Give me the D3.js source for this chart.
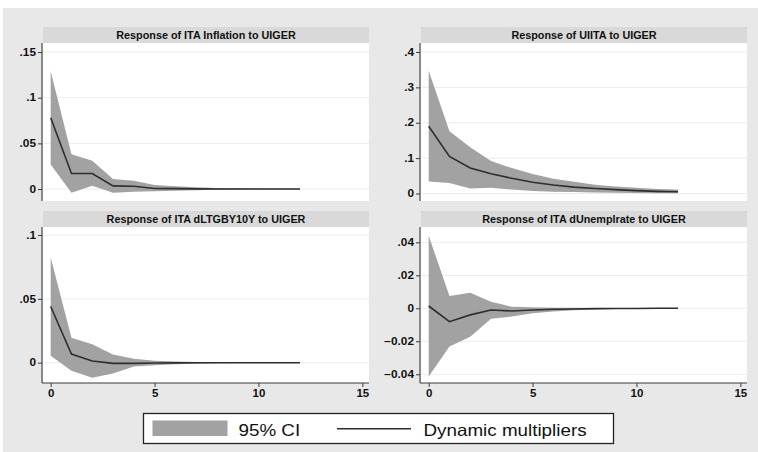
<!DOCTYPE html>
<html><head><meta charset="utf-8">
<script src="https://cdn.jsdelivr.net/npm/d3@7"></script>
<style>body{margin:0;background:#fff}svg{display:block}</style>
</head><body>
<svg id="chart" width="758" height="452"></svg>
<script>
// ---- data ----
const steps = [0,1,2,3,4,5,6,7,8,9,10,11,12];
const titles = [
  "Response of ITA Inflation to UIGER",
  "Response of UIITA to UIGER",
  "Response of ITA dLTGBY10Y to UIGER",
  "Response of ITA dUnemplrate to UIGER"
];
const irfInflation = [0.078,0.017,0.017,0.0035,0.003,0.0006,0.0004,0.0002,0.0001,0.0001,0.00005,0.00003,0.00002];
const loInflation  = [0.027,-0.004,0.0035,-0.004,-0.003,-0.0025,-0.0018,-0.0012,-0.0008,-0.0005,-0.0003,-0.0002,-0.0001];
const hiInflation  = [0.129,0.038,0.031,0.011,0.009,0.0045,0.003,0.002,0.0012,0.0008,0.0005,0.0003,0.0002];

const irfUIITA = [0.19,0.105,0.072,0.056,0.043,0.032,0.024,0.018,0.014,0.011,0.008,0.006,0.005];
const loUIITA  = [0.034,0.030,0.014,0.016,0.011,0.007,0.005,0.004,0.003,0.002,0.0015,0.001,0.001];
const hiUIITA  = [0.347,0.176,0.131,0.092,0.072,0.055,0.042,0.033,0.025,0.020,0.016,0.013,0.011];

const irfLTGBY = [0.044,0.0068,0.0013,-0.0005,-0.0005,-0.0002,-0.0001,0,0,0,0,0,0];
const loLTGBY  = [0.0055,-0.0063,-0.0117,-0.0084,-0.003,-0.002,-0.0012,-0.0008,-0.0005,-0.0003,-0.0002,-0.0001,-0.0001];
const hiLTGBY  = [0.0825,0.0196,0.0144,0.0065,0.0031,0.0016,0.001,0.0006,0.0004,0.0003,0.0002,0.0001,0.0001];

const irfUnemp = [0.0014,-0.0081,-0.004,-0.001,-0.0016,-0.001,-0.0006,-0.0004,-0.0002,-0.0001,-0.0001,0,0];
const loUnemp  = [-0.0414,-0.0232,-0.0172,-0.0063,-0.005,-0.003,-0.002,-0.0012,-0.0008,-0.0005,-0.0003,-0.0002,-0.0001];
const hiUnemp  = [0.044,0.0075,0.0095,0.004,0.001,0.0006,0.0004,0.0003,0.0002,0.0001,0.0001,0.0001,0.0001];

const yTicks1 = [0,0.05,0.1,0.15];
const yTicks2 = [0,0.1,0.2,0.3,0.4];
const yTicks3 = [0,0.05,0.1];
const yTicks4 = [-0.04,-0.02,0,0.02,0.04];
const xTicks = [0,5,10,15];
const legendLabels = ["95% CI","Dynamic multipliers"];

// ---- layout ----
const svg = d3.select("#chart");
const BG = "#e8e8e8", STRIP = "#d9d9d9", BAND = "#a2a2a2", LINE = "#2e2e2e", AX = "#3a3a3a", GRID = "#ececec";
const FONT = "'Liberation Sans', Arial, sans-serif";

svg.append("rect").attr("x",3).attr("y",8).attr("width",755).attr("height",444).attr("fill",BG);

const panels = [
  {title:titles[0], irf:irfInflation, lo:loInflation, hi:hiInflation, ticks:yTicks1, x0:43, x1:369, top:43, bot:201, ydom:[-0.0131,0.1599], xaxis:false},
  {title:titles[1], irf:irfUIITA, lo:loUIITA, hi:hiUIITA, ticks:yTicks2, x0:421, x1:747, top:43, bot:201, ydom:[-0.0212,0.4254], xaxis:false},
  {title:titles[2], irf:irfLTGBY, lo:loLTGBY, hi:hiLTGBY, ticks:yTicks3, x0:43, x1:369, top:227, bot:383, ydom:[-0.0159,0.1063], xaxis:true},
  {title:titles[3], irf:irfUnemp, lo:loUnemp, hi:hiUnemp, ticks:yTicks4, x0:421, x1:747, top:227, bot:383, ydom:[-0.0453,0.0493], xaxis:true}
];

const fmt = v => { if (v===0) return "0"; let s = d3.format("")(+v.toFixed(4)); return s.replace(/^(-?)0\./,"$1."); };

function stretch(sel, k){
  sel.each(function(){ const w=this.getComputedTextLength(); d3.select(this).attr("textLength", w*k).attr("lengthAdjust","spacingAndGlyphs"); });
}

panels.forEach(p => {
  const g = svg.append("g");
  const x = d3.scaleLinear().domain([-0.37,15.32]).range([p.x0,p.x1]);
  const y = d3.scaleLinear().domain(p.ydom).range([p.bot,p.top]);
  // strip
  g.append("rect").attr("x",p.x0).attr("y",p.top-16).attr("width",p.x1-p.x0).attr("height",16).attr("fill",STRIP);
  g.append("text").attr("x",(p.x0+p.x1)/2).attr("y",p.top-4.5).attr("text-anchor","middle")
    .attr("font-family",FONT).attr("font-weight","bold").attr("font-size","10px").attr("fill","#111")
    .text(p.title).call(stretch,1.08);
  // plot area
  g.append("rect").attr("x",p.x0).attr("y",p.top).attr("width",p.x1-p.x0).attr("height",p.bot-p.top).attr("fill","#fff");
  // grid
  g.selectAll("line.grid").data(p.ticks).enter().append("line")
    .attr("x1",p.x0).attr("x2",p.x1).attr("y1",d=>y(d)).attr("y2",d=>y(d))
    .attr("stroke",GRID).attr("stroke-width",1);
  // band
  const rows = steps.map((s,i)=>({s, irf:p.irf[i], lo:p.lo[i], hi:p.hi[i]}));
  g.append("path").datum(rows).attr("fill",BAND)
    .attr("d", d3.area().x(d=>x(d.s)).y0(d=>y(d.lo)).y1(d=>y(d.hi)));
  g.append("path").datum(rows).attr("fill","none").attr("stroke",LINE).attr("stroke-width",1.6)
    .attr("d", d3.line().x(d=>x(d.s)).y(d=>y(d.irf)));
  // y axis
  const ya = g.append("g").attr("transform",`translate(${p.x0-1},0)`)
    .call(d3.axisLeft(y).tickValues(p.ticks).tickFormat(fmt).tickSize(4).tickPadding(2));
  ya.select(".domain").attr("stroke",AX).attr("stroke-width",1.1).attr("d",`M0,${p.top}V${p.bot}`);
  ya.selectAll(".tick line").attr("stroke",AX);
  ya.selectAll(".tick text").attr("font-family",FONT).attr("font-weight","bold").attr("font-size","10px").attr("fill","#111").call(stretch,1.18);
  if (p.xaxis){
    const xa = g.append("g").attr("transform",`translate(0,${p.bot})`)
      .call(d3.axisBottom(x).tickValues(xTicks).tickFormat(d3.format("d")).tickSize(4).tickPadding(3));
    xa.select(".domain").attr("stroke",AX).attr("stroke-width",1.1).attr("d",`M${p.x0-1},0H${p.x1}`);
    xa.selectAll(".tick line").attr("stroke",AX);
    xa.selectAll(".tick text").attr("font-family",FONT).attr("font-weight","bold").attr("font-size","10px").attr("fill","#111").call(stretch,1.15);
  }
});

// ---- legend ----
const lg = svg.append("g");
lg.append("rect").attr("x",143.5).attr("y",413.5).attr("width",470).attr("height",30)
  .attr("fill","#fff").attr("stroke","#222").attr("stroke-width",1.3);
lg.append("rect").attr("x",152.5).attr("y",420.5).attr("width",75).attr("height",15.5).attr("fill",BAND);
lg.append("text").attr("x",238.5).attr("y",435.5).attr("font-family",FONT).attr("font-size","16.5px").attr("fill","#111")
  .text(legendLabels[0]).call(stretch,1.14);
lg.append("line").attr("x1",337).attr("x2",411).attr("y1",428.7).attr("y2",428.7).attr("stroke",LINE).attr("stroke-width",1.5);
lg.append("text").attr("x",423.5).attr("y",435.5).attr("font-family",FONT).attr("font-size","16.5px").attr("fill","#111")
  .text(legendLabels[1]).call(stretch,1.14);
</script>
</body></html>
